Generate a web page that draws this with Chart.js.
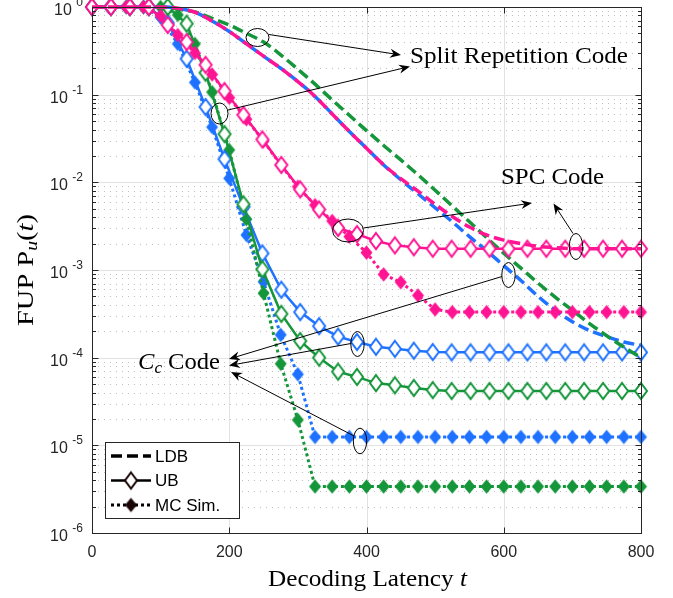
<!DOCTYPE html>
<html><head><meta charset="utf-8">
<script src="https://cdn.jsdelivr.net/npm/chart.js@4/dist/chart.umd.min.js"></script>
<style>html,body{margin:0;padding:0;background:#fff}#wrap{width:673px;height:598px;position:relative}</style>
</head><body><div id="wrap"><canvas id="c" width="673" height="598"></canvas></div>
<script>
// ---------- data ----------
const tUB = [0, 27.6, 55.2, 82.8, 110.3, 137.9, 165.5, 193.1, 220.7, 248.3, 275.9, 303.4, 331.0, 358.6, 386.2, 413.8, 441.4, 469.0, 496.6, 524.1, 551.7, 579.3, 606.9, 634.5, 662.1, 689.7, 717.2, 744.8, 772.4, 800];
const tMC = [0,25,50,75,100,125,150,175,200,225,250,275,300,325,350,375,400,425,450,475,500,525,550,575,600,625,650,675,700,725,750,775,800];
const tLDB = tMC;

const spcUB = [1,1,1,1,0.624,0.398,0.219,0.110,0.0589,0.0309,0.0158,8.32e-3,4.90e-3,3.02e-3,2.57e-3,2.14e-3,1.91e-3,1.82e-3,1.75e-3,1.75e-3,1.75e-3,1.75e-3,1.75e-3,1.75e-3,1.75e-3,1.75e-3,1.75e-3,1.75e-3,1.75e-3,1.75e-3];
const ccUB  = [1,1,1,1,0.661,0.257,0.0724,0.0184,5.25e-3,1.55e-3,5.96e-4,3.31e-4,2.29e-4,1.74e-4,1.51e-4,1.33e-4,1.26e-4,1.20e-4,1.16e-4,1.15e-4,1.15e-4,1.15e-4,1.15e-4,1.15e-4,1.15e-4,1.15e-4,1.15e-4,1.15e-4,1.15e-4,1.15e-4];
const srUB  = [1,1,1,1,1,0.646,0.178,0.0355,5.62e-3,1.02e-3,3.16e-4,1.55e-4,1.00e-4,6.92e-5,6.03e-5,5.13e-5,4.84e-5,4.52e-5,4.27e-5,4.17e-5,4.17e-5,4.17e-5,4.17e-5,4.17e-5,4.17e-5,4.17e-5,4.17e-5,4.17e-5,4.17e-5,4.17e-5];

const spcMC = [1,1,1,1,0.794,0.479,0.299,0.170,0.0923,0.0525,0.0295,0.0158,8.91e-3,5.50e-3,3.63e-3,2.40e-3,1.58e-3,8.91e-4,7.24e-4,5.13e-4,3.55e-4,3.31e-4,3.31e-4,3.31e-4,3.31e-4,3.31e-4,3.31e-4,3.31e-4,3.31e-4,3.31e-4,3.31e-4,3.31e-4,3.31e-4];
const ccMC  = [1,1,1,1,0.759,0.380,0.138,0.0427,0.0111,2.51e-3,7.33e-4,1.82e-4,6.46e-5,1.245e-5,1.245e-5,1.245e-5,1.245e-5,1.245e-5,1.245e-5,1.245e-5,1.245e-5,1.245e-5,1.245e-5,1.245e-5,1.245e-5,1.245e-5,1.245e-5,1.245e-5,1.245e-5,1.245e-5,1.245e-5,1.245e-5,1.245e-5];
const srMC  = [1,1,1,1,1,0.813,0.380,0.107,0.0234,3.80e-3,5.43e-4,8.51e-5,1.95e-5,3.39e-6,3.39e-6,3.39e-6,3.39e-6,3.39e-6,3.39e-6,3.39e-6,3.39e-6,3.39e-6,3.39e-6,3.39e-6,3.39e-6,3.39e-6,3.39e-6,3.39e-6,3.39e-6,3.39e-6,3.39e-6,3.39e-6,3.39e-6];

const srLDB  = [1,1,1,1,1,0.944,0.879,0.741,0.624,0.501,0.398,0.285,0.195,0.132,0.0871,0.0582,0.0389,0.0263,0.0180,0.0122,8.13e-3,5.37e-3,3.55e-3,2.34e-3,1.55e-3,1.05e-3,7.08e-4,4.90e-4,3.47e-4,2.45e-4,1.78e-4,1.32e-4,1.00e-4];
const ccLDB  = [1,1,1,1,1,0.966,0.871,0.692,0.525,0.380,0.275,0.200,0.141,0.0955,0.0603,0.0380,0.0245,0.0158,0.0107,7.41e-3,5.13e-3,3.55e-3,2.40e-3,1.66e-3,1.12e-3,7.59e-4,5.01e-4,3.47e-4,2.57e-4,2.04e-4,1.74e-4,1.51e-4,1.38e-4];
const spcLDB = [1,1,1,1,1,0.966,0.871,0.692,0.525,0.380,0.275,0.200,0.141,0.0955,0.0603,0.0380,0.0245,0.0158,0.0110,7.94e-3,5.62e-3,4.07e-3,3.09e-3,2.51e-3,2.19e-3,2.00e-3,1.86e-3,1.80e-3,1.75e-3,1.75e-3,1.75e-3,1.75e-3,1.75e-3];

const xTicks = [0,200,400,600,800];
const yTickExps = [0,-1,-2,-3,-4,-5,-6];
const legendLabels = ['LDB','UB','MC Sim.'];

// ---------- styles ----------
const PINK = '#ff1493', BLUE = '#1e72ff', GREEN = '#15963a';
function diamond(color, w, h, filled, lw){
  const c = document.createElement('canvas');
  c.width = Math.ceil(w + lw*2 + 2); c.height = Math.ceil(h + lw*2 + 2);
  const g = c.getContext('2d'); const cx = c.width/2, cy = c.height/2;
  g.beginPath(); g.moveTo(cx, cy-h/2); g.lineTo(cx+w/2, cy); g.lineTo(cx, cy+h/2); g.lineTo(cx-w/2, cy); g.closePath();
  g.fillStyle = filled ? color : '#fff'; g.fill();
  g.lineWidth = lw; g.strokeStyle = color; g.stroke();
  return c;
}
function pts(xs, ys){ return xs.map((x,i)=>({x:x, y:ys[i]})); }
function ub(data, color){ return {data, borderColor:color, borderWidth:2.5, pointStyle:diamond(color,12,16,false,2), pointRadius:7, fill:false, clip:false}; }
function mc(data, color){ return {data, borderColor:color, borderWidth:3, borderDash:[3,3], pointStyle:diamond(color,10,12,true,1.5), pointRadius:6, fill:false, clip:false}; }
function ldb(data, color, off){ return {data, borderColor:color, borderWidth:3.5, borderDash:[11,5], borderDashOffset:off||0, pointRadius:0, cubicInterpolationMode:'monotone', fill:false, clip:false}; }

// ---------- helpers ----------
function runsWidth(ctx, runs){ let w=0; for(const r of runs){ ctx.font=r.f; w+=ctx.measureText(r.t).width; } return w; }
function drawRuns(ctx, x, y, runs, align, target){
  const w = runsWidth(ctx, runs); const sx = target ? target/w : 1; const W = w*sx;
  const x0 = align==='center'? x-W/2 : (align==='right'? x-W : x);
  ctx.save(); ctx.translate(x0, y); ctx.scale(sx, 1);
  ctx.textAlign='left'; ctx.textBaseline='alphabetic';
  let cx = 0;
  for(const r of runs){ ctx.font=r.f; ctx.fillText(r.t, cx, r.dy||0); cx+=ctx.measureText(r.t).width; }
  ctx.restore();
}
function arrow(ctx, x1,y1,x2,y2){
  const ang = Math.atan2(y2-y1, x2-x1), L=11, W=4.5, N=3.5;
  const bx = x2 - L*Math.cos(ang), by = y2 - L*Math.sin(ang);
  ctx.beginPath(); ctx.moveTo(x1,y1); ctx.lineTo(x2 - N*Math.cos(ang), y2 - N*Math.sin(ang)); ctx.stroke();
  ctx.beginPath(); ctx.moveTo(x2,y2);
  ctx.lineTo(bx + W*Math.sin(ang), by - W*Math.cos(ang));
  ctx.lineTo(x2 - (L-N)*Math.cos(ang), y2 - (L-N)*Math.sin(ang));
  ctx.lineTo(bx - W*Math.sin(ang), by + W*Math.cos(ang));
  ctx.closePath(); ctx.fill();
}
function ellipse(ctx, cx, cy, rx, ry){ ctx.beginPath(); ctx.ellipse(cx,cy,rx,ry,0,0,Math.PI*2); ctx.stroke(); }

const SERIF = '"Liberation Serif", "DejaVu Serif", serif';
const SANS = '"Liberation Sans", Arial, sans-serif';

const decor = {
  id:'decor',
  beforeDatasetsDraw(chart){
    const {ctx, chartArea:a, scales:{x, y}} = chart;
    ctx.save();
    ctx.lineWidth = 1;
    ctx.strokeStyle = 'rgba(0,0,0,0.25)'; ctx.setLineDash([1,5]);
    for (let e=-6; e<0; e++) for (let m=2; m<=9; m++){
      const py = Math.round(y.getPixelForValue(m*Math.pow(10,e)))+0.5;
      ctx.beginPath(); ctx.moveTo(a.left, py); ctx.lineTo(a.right, py); ctx.stroke();
    }
    ctx.setLineDash([]); ctx.strokeStyle = '#e2e2e2';
    for (const e of yTickExps){ const py=Math.round(y.getPixelForValue(Math.pow(10,e)))+0.5; ctx.beginPath(); ctx.moveTo(a.left,py); ctx.lineTo(a.right,py); ctx.stroke(); }
    for (const t of xTicks){ const px=Math.round(x.getPixelForValue(t))+0.5; ctx.beginPath(); ctx.moveTo(px,a.top); ctx.lineTo(px,a.bottom); ctx.stroke(); }
    ctx.restore();
  },
  afterDatasetsDraw(chart){
    const {ctx, chartArea:a, scales:{x, y}} = chart;
    ctx.save();
    // frame
    const L=Math.round(a.left)+0.5, R=Math.round(a.right)+0.5, T=Math.round(a.top)+0.5, B=Math.round(a.bottom)+0.5;
    ctx.strokeStyle='#262626'; ctx.lineWidth=1;
    ctx.strokeRect(L, T, R-L, B-T);
    ctx.beginPath();
    for (const e of yTickExps){ const py=Math.round(y.getPixelForValue(Math.pow(10,e)))+0.5; ctx.moveTo(L,py); ctx.lineTo(L+6,py); ctx.moveTo(R,py); ctx.lineTo(R-6,py); }
    for (let e=-6; e<0; e++) for (let m=2; m<=9; m++){ const py=Math.round(y.getPixelForValue(m*Math.pow(10,e)))+0.5; ctx.moveTo(L,py); ctx.lineTo(L+3.5,py); ctx.moveTo(R,py); ctx.lineTo(R-3.5,py); }
    for (const t of xTicks){ const px=Math.round(x.getPixelForValue(t))+0.5; ctx.moveTo(px,B); ctx.lineTo(px,B-6); ctx.moveTo(px,T); ctx.lineTo(px,T+6); }
    ctx.stroke();
    // tick labels
    ctx.fillStyle='#262626';
    ctx.font='16px '+SANS; ctx.textAlign='center'; ctx.textBaseline='top';
    for (const t of xTicks){ ctx.fillText(String(t), x.getPixelForValue(t), a.bottom+12); }
    for (const e of yTickExps){
      const py=y.getPixelForValue(Math.pow(10,e));
      drawRuns(ctx, a.left-9, py+8, [{t:'10 ', f:'16px '+SANS},{t:String(e), f:'12px '+SANS, dy:-9}], 'right');
    }
    // axis titles
    ctx.fillStyle='#000';
    drawRuns(ctx, (a.left+a.right)/2+1, a.bottom+53, [{t:'Decoding Latency ', f:'23px '+SERIF},{t:'t', f:'italic 23px '+SERIF}], 'center', 199);
    ctx.save(); ctx.translate(33, (a.top+a.bottom)/2); ctx.rotate(-Math.PI/2);
    drawRuns(ctx, 0, 0, [{t:'FUP P', f:'23px '+SERIF},{t:'u', f:'italic 16px '+SERIF, dy:4},{t:'(', f:'23px '+SERIF},{t:'t', f:'italic 23px '+SERIF},{t:')', f:'23px '+SERIF}], 'center', 112);
    ctx.restore();
    // annotations
    ctx.strokeStyle='#000'; ctx.fillStyle='#000'; ctx.lineWidth=1;
    ellipse(ctx, 257.5, 37.5, 11.5, 9); ellipse(ctx, 219.5, 113.5, 8.5, 10.5);
    ellipse(ctx, 348, 230.5, 15.5, 11.5); ellipse(ctx, 576, 246.5, 6.7, 13);
    ellipse(ctx, 508.5, 275, 6.7, 12.5); ellipse(ctx, 357.5, 344, 6.7, 12.5); ellipse(ctx, 360, 441, 6.7, 12.8);
    arrow(ctx, 269, 34.5, 401, 55); arrow(ctx, 228, 110, 410, 66.5);
    arrow(ctx, 363.5, 228, 532, 203); arrow(ctx, 573, 233.5, 553.5, 203.5);
    arrow(ctx, 502, 276.5, 229, 359); arrow(ctx, 351, 343.5, 229, 365.5); arrow(ctx, 354, 436, 231, 372);
    drawRuns(ctx, 410, 63, [{t:'Split Repetition Code', f:'23px '+SERIF}], 'left', 218);
    drawRuns(ctx, 501, 184, [{t:'SPC Code', f:'23px '+SERIF}], 'left', 103);
    drawRuns(ctx, 138, 369, [{t:'C', f:'italic 23px '+SERIF},{t:'c', f:'italic 16px '+SERIF, dy:4},{t:' Code', f:'23px '+SERIF}], 'left', 82);
    // legend
    const lx=105.5, ly=442.5, lw=134, lh=76;
    ctx.fillStyle='#fff'; ctx.fillRect(lx,ly,lw,lh);
    ctx.strokeStyle='#262626'; ctx.strokeRect(lx,ly,lw,lh);
    const rows=[456,480.5,505];
    ctx.strokeStyle='#000';
    ctx.lineWidth=3.5; ctx.setLineDash([11,5]); ctx.beginPath(); ctx.moveTo(111,rows[0]); ctx.lineTo(151,rows[0]); ctx.stroke();
    ctx.lineWidth=2.5; ctx.setLineDash([]); ctx.beginPath(); ctx.moveTo(111,rows[1]); ctx.lineTo(151,rows[1]); ctx.stroke();
    const dh=diamond('#1a0505',12,16,false,2); ctx.drawImage(dh, 131-dh.width/2, rows[1]-dh.height/2);
    ctx.lineWidth=3; ctx.setLineDash([3,3]); ctx.beginPath(); ctx.moveTo(111,rows[2]); ctx.lineTo(151,rows[2]); ctx.stroke(); ctx.setLineDash([]);
    const df=diamond('#1a0505',10,12,true,1.5); ctx.drawImage(df, 131-df.width/2, rows[2]-df.height/2);
    ctx.fillStyle='#000'; ctx.font='17px '+SANS; ctx.textAlign='left'; ctx.textBaseline='middle';
    legendLabels.forEach((s,i)=>ctx.fillText(s, 155, rows[i]+1));
    ctx.restore();
  }
};

new Chart(document.getElementById('c'), {
  type:'line',
  data:{ datasets:[
    ldb(pts(tLDB, spcLDB), PINK, 0),
    ub(pts(tUB, spcUB), PINK),
    mc(pts(tMC, spcMC), PINK),
    ldb(pts(tLDB, srLDB), GREEN, 0),
    ldb(pts(tLDB, ccLDB), BLUE, 8),
    ub(pts(tUB, srUB), GREEN),
    ub(pts(tUB, ccUB), BLUE),
    mc(pts(tMC, srMC), GREEN),
    mc(pts(tMC, ccMC), BLUE)
  ]},
  options:{
    responsive:false, animation:false, events:[],
    layout:{autoPadding:false, padding:{left:92, right:32, top:7, bottom:65}},
    plugins:{legend:{display:false}, tooltip:{enabled:false}},
    scales:{
      x:{type:'linear', min:0, max:800, ticks:{display:false}, grid:{display:false, drawTicks:false, tickLength:0}, border:{display:false}},
      y:{type:'logarithmic', min:1e-6, max:1, ticks:{display:false}, grid:{display:false, drawTicks:false, tickLength:0}, border:{display:false}}
    }
  },
  plugins:[decor]
});
</script></body></html>
